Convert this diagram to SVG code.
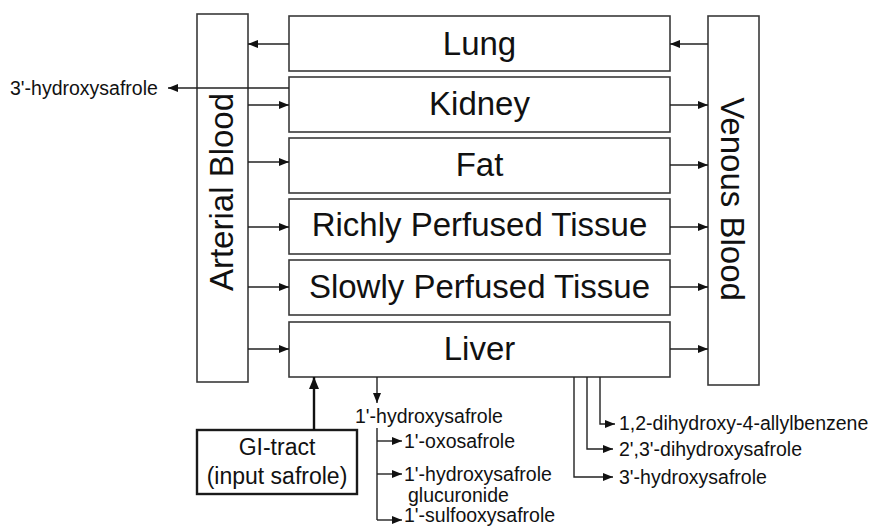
<svg xmlns="http://www.w3.org/2000/svg" width="877" height="527" viewBox="0 0 877 527">
<style>
.box{fill:#fff;stroke:#3a3a3a;stroke-width:1.6}
.gi{fill:#fff;stroke:#1a1a1a;stroke-width:2.4}
.big{font-family:"Liberation Sans",Arial,sans-serif;font-size:33px;fill:#111;text-anchor:middle}
.mid{font-family:"Liberation Sans",Arial,sans-serif;font-size:23px;fill:#111;text-anchor:middle}
.sm{font-family:"Liberation Sans",Arial,sans-serif;font-size:19.5px;fill:#111}
.ln{fill:none;stroke:#222;stroke-width:1.4}
.la{fill:none;stroke:#222;stroke-width:1.4;marker-end:url(#ah)}
.lt{fill:none;stroke:#111;stroke-width:2.4;marker-end:url(#ahb)}
</style>
<defs>
<marker id="ah" markerUnits="userSpaceOnUse" markerWidth="10" markerHeight="10" viewBox="0 0 10 10" refX="10" refY="5" orient="auto">
<path d="M0,1 L10,5 L0,9 Z" fill="#111"/>
</marker>
<marker id="ahb" markerUnits="userSpaceOnUse" markerWidth="12" markerHeight="12" viewBox="0 0 12 12" refX="12" refY="6" orient="auto">
<path d="M0,1 L12,6 L0,11 Z" fill="#111"/>
</marker>
</defs>
<g id="arterial">
<rect class="box" x="197" y="14" width="51" height="368"/>
<text class="big" transform="translate(233,192) rotate(-90)">Arterial Blood</text>
</g>
<g id="venous">
<rect class="box" x="708" y="16" width="51" height="369"/>
<text class="big" transform="translate(721,199) rotate(90)">Venous Blood</text>
</g>
<g id="lung">
<rect class="box" x="289" y="16" width="381" height="55"/>
<text class="big" x="479.5" y="55">Lung</text>
</g>
<g id="kidney">
<rect class="box" x="289" y="77" width="381" height="55"/>
<text class="big" x="479.5" y="115">Kidney</text>
</g>
<g id="fat">
<rect class="box" x="289" y="138" width="381" height="55"/>
<text class="big" x="479.5" y="176">Fat</text>
</g>
<g id="richly">
<rect class="box" x="289" y="199" width="381" height="55"/>
<text class="big" x="479.5" y="236">Richly Perfused Tissue</text>
</g>
<g id="slowly">
<rect class="box" x="289" y="260" width="381" height="55"/>
<text class="big" x="479.5" y="298">Slowly Perfused Tissue</text>
</g>
<g id="liver">
<rect class="box" x="289" y="322" width="381" height="55"/>
<text class="big" x="479.5" y="360">Liver</text>
</g>
<g id="gi">
<rect class="gi" x="197" y="430" width="160" height="64"/>
<text class="mid" x="277" y="455">GI-tract</text>
<text class="mid" x="277" y="484">(input safrole)</text>
</g>
<g id="connectors">
<path class="la" d="M289,44 H248"/>
<path class="la" d="M708,44 H670"/>
<path class="la" d="M289,88 H168"/>
<path class="la" d="M248,105 H289"/>
<path class="la" d="M248,162 H289"/>
<path class="la" d="M248,227 H289"/>
<path class="la" d="M248,287 H289"/>
<path class="la" d="M248,349 H289"/>
<path class="la" d="M670,105 H708"/>
<path class="la" d="M670,165 H708"/>
<path class="la" d="M670,227 H708"/>
<path class="la" d="M670,287 H708"/>
<path class="la" d="M670,349 H708"/>
<path class="lt" d="M314,430 V377"/>
<path class="la" d="M377,377 V403"/>
<path class="ln" d="M377,428 V520"/>
<path class="la" d="M377,441 H402"/>
<path class="la" d="M377,474 H402"/>
<path class="la" d="M377,520 H402"/>
<path class="la" d="M600,377 V424 H615"/>
<path class="la" d="M587,377 V449 H613"/>
<path class="la" d="M574,377 V477 H613"/>
</g>
<g id="labels">
<text class="sm" x="10" y="95">3'-hydroxysafrole</text>
<text class="sm" x="355" y="423">1'-hydroxysafrole</text>
<text class="sm" x="404" y="448">1'-oxosafrole</text>
<text class="sm" x="404" y="481">1'-hydroxysafrole</text>
<text class="sm" x="408" y="502">glucuronide</text>
<text class="sm" x="404" y="522">1'-sulfooxysafrole</text>
<text class="sm" x="619" y="430">1,2-dihydroxy-4-allylbenzene</text>
<text class="sm" x="619" y="456">2',3'-dihydroxysafrole</text>
<text class="sm" x="619" y="484">3'-hydroxysafrole</text>
</g>
</svg>
